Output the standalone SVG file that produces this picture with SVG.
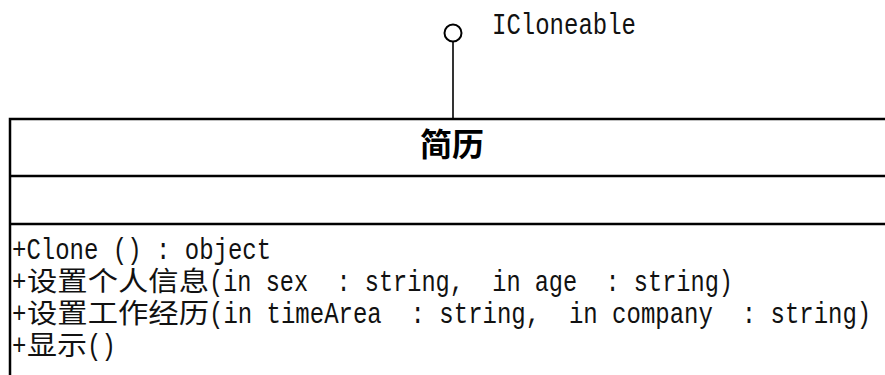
<svg xmlns="http://www.w3.org/2000/svg" width="885" height="375" viewBox="0 0 885 375">
<style>
.bg{fill:#ffffff}
.box{fill:#ffffff;stroke:#000000;stroke-width:2.5}
.sep{stroke:#000000;stroke-width:2.5}
.lolly{fill:#ffffff;stroke:#000000;stroke-width:2}
.stem{stroke:#000000;stroke-width:1.6}
.m{font-family:"Liberation Mono","DejaVu Sans Mono",monospace;font-size:24px;fill:#111111;white-space:pre}
.c{font-family:"Noto Sans CJK SC","Noto Sans CJK JP",sans-serif;font-size:22.5px}
.t{font-family:"Noto Sans CJK SC","Noto Sans CJK JP",sans-serif;font-size:32px;font-weight:bold;fill:#000000}
</style>
<rect class="bg" x="0" y="0" width="885" height="375"/>
<g id="connectors">
<line class="stem" x1="453" y1="42" x2="453" y2="119"/>
</g>
<g id="ICloneable">
<circle class="lolly" cx="453" cy="33" r="8.5"/>
<text class="m" transform="translate(492,34) scale(1,1.2)" x="0" y="0">ICloneable</text>
</g>
<g id="class-jianli">
<rect class="box" x="10" y="119" width="890" height="270"/>
<line class="sep" x1="10" y1="176" x2="890" y2="176"/>
<line class="sep" x1="10" y1="224" x2="890" y2="224"/>
<text class="t" x="452" y="156" text-anchor="middle">简历</text>
<g id="op-clone">
<text class="m" transform="translate(12,259) scale(1,1.2)" x="0" y="0" xml:space="preserve">+Clone () : object</text>
</g>
<g id="op-info">
<text class="m" transform="translate(12,291) scale(1,1.2)" x="0" y="0" xml:space="preserve">+<tspan class="c" x="15" textLength="182" lengthAdjust="spacingAndGlyphs">设置个人信息</tspan><tspan x="197" textLength="524" lengthAdjust="spacingAndGlyphs">(in sex  : string,  in age  : string)</tspan></text>
</g>
<g id="op-work">
<text class="m" transform="translate(12,323) scale(1,1.2)" x="0" y="0" xml:space="preserve">+<tspan class="c" x="15" textLength="182" lengthAdjust="spacingAndGlyphs">设置工作经历</tspan><tspan x="197">(in timeArea  : string,  in company  : string)</tspan></text>
</g>
<g id="op-show">
<text class="m" transform="translate(12,355) scale(1,1.2)" x="0" y="0" xml:space="preserve">+<tspan class="c" x="15" textLength="60" lengthAdjust="spacingAndGlyphs">显示</tspan><tspan x="75">()</tspan></text>
</g>
</g>
</svg>
